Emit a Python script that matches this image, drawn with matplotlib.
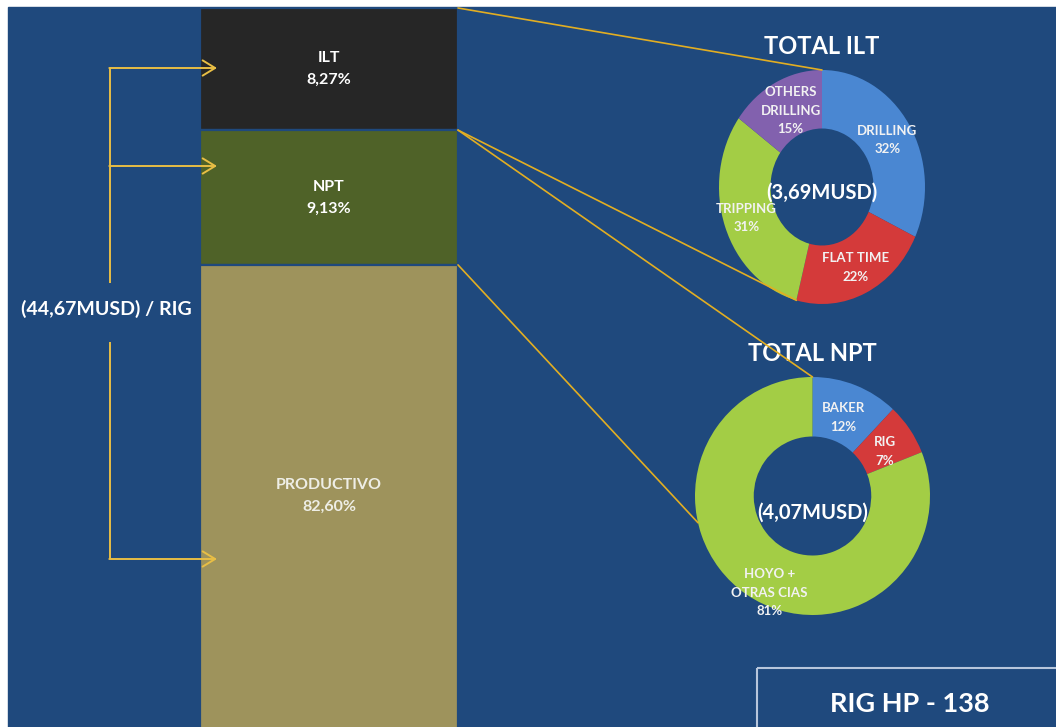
import matplotlib
matplotlib.use('Agg')
import matplotlib.pyplot as plt
import numpy as np
from matplotlib.patches import Rectangle, ConnectionPatch

plt.rcParams['font.family'] = ['Lato', 'DejaVu Sans']
plt.rcParams['font.weight'] = 'bold'

# ---------------- data ----------------
bar_categories = ['ILT', 'NPT', 'PRODUCTIVO']
bar_shares = [8.27, 9.13, 82.60]
bar_labels = ['8,27%', '9,13%', '82,60%']
total_label = '(44,67MUSD) / RIG'

ilt_categories = ['DRILLING', 'FLAT TIME', 'TRIPPING', 'OTHERS\nDRILLING']
ilt_shares = [32, 22, 31, 15]
ilt_title = 'TOTAL ILT'
ilt_total = '(3,69MUSD)'

npt_categories = ['BAKER', 'RIG', 'HOYO +\nOTRAS CIAS']
npt_shares = [12, 7, 81]
npt_title = 'TOTAL NPT'
npt_total = '(4,07MUSD)'

rig_name = 'RIG HP - 138'

# ---------------- style ----------------
BG = '#1F497D'
GOLD = '#E2AE22'
BRACKET = '#E8BE45'
bar_colors = ['#262626', '#4F6228', '#9E935C']
bar_text_colors = ['white', 'white', '#EEEEE6']
ilt_colors = ['#4A87D2', '#D43A3A', '#A3CD45', '#8261AE']
npt_colors = ['#4A87D2', '#D43A3A', '#A3CD45']

W, H = 1056, 727
fig = plt.figure(figsize=(W / 100, H / 100), dpi=100, facecolor='white')


def fr(x0, y0, x1, y1):
    return [x0 / W, 1 - y1 / H, (x1 - x0) / W, (y1 - y0) / H]


fig.patches.append(Rectangle((8 / W, 0), 1 - 8 / W, 1 - 7 / H,
                             transform=fig.transFigure, color=BG, zorder=-5))

# ---------------- stacked 100% bar (cropped at bottom) ----------------
ax_bar = fig.add_axes(fr(200, 8, 458, 727), zorder=2)
ax_bar.set_xlim(-0.5, 0.5)
ax_bar.set_ylim(51.3, 100)
ax_bar.axis('off')
tops = list(np.cumsum(bar_shares[::-1])[::-1])
y0, y1 = ax_bar.get_ylim()
for cat, share, top, col, lab, tc in zip(bar_categories, bar_shares, tops,
                                         bar_colors, bar_labels, bar_text_colors):
    bottom = top - share
    ax_bar.bar(0, share, bottom=bottom, width=1, color=col,
               edgecolor=BG, linewidth=1.6)
    vis_b, vis_t = max(bottom, y0), min(top, y1)
    ax_bar.text(0, (vis_b + vis_t) / 2, f'{cat}\n{lab}', ha='center',
                va='center', color=tc, fontsize=11.5, fontweight='bold',
                linespacing=1.7)


# ---------------- donuts ----------------
def donut(rect, shares, cats, colors, title, total, label_r, label_dth,
          total_dy):
    ax = fig.add_axes(rect, zorder=2)
    wedges, _ = ax.pie(shares, colors=colors, startangle=90,
                       counterclock=False, radius=1,
                       wedgeprops=dict(width=0.5, edgecolor='none'))
    ax.set_aspect('auto')
    ax.set_xlim(-1, 1)
    ax.set_ylim(-1, 1)
    ax.axis('off')
    for w, c, s, r, dth in zip(wedges, cats, shares, label_r, label_dth):
        th = np.deg2rad((w.theta1 + w.theta2) / 2 + dth)
        ax.text(r * np.cos(th), r * np.sin(th), f'{c}\n{s}%', ha='center',
                va='center', color='#F2F2F2', fontsize=9.5,
                fontweight='bold', linespacing=1.65)
    ax.text(0, total_dy, total, ha='center', va='center', color='white',
            fontsize=14.5, fontweight='bold')
    ax.text(0.5, 1.1, title, transform=ax.transAxes, ha='center',
            va='center', color='white', fontsize=17, fontweight='bold')
    return ax, wedges


ax_ilt, w_ilt = donut(fr(719, 70, 925, 304), ilt_shares, ilt_categories,
                      ilt_colors, ilt_title, ilt_total,
                      [0.75, 0.76, 0.78, 0.72], [0, 0, 0, -2], -0.05)
ax_npt, w_npt = donut(fr(695, 377, 930, 615), npt_shares, npt_categories,
                      npt_colors, npt_title, npt_total,
                      [0.71, 0.72, 0.89], [0, -3, 10], -0.14)


def edge_pt(angle_deg):
    a = np.deg2rad(angle_deg)
    return (np.cos(a), np.sin(a))


ilt_boundary = 90 - 360 * sum(ilt_shares[:2]) / 100
connections = [
    ((0.5, tops[0]), ax_ilt, (0, 1)),
    ((0.5, tops[1]), ax_ilt, edge_pt(ilt_boundary)),
    ((0.5, tops[1]), ax_npt, (0, 1)),
    ((0.5, tops[2]), ax_npt, edge_pt(-167)),
]
for xyA, axB, xyB in connections:
    con = ConnectionPatch(xyA=xyA, coordsA=ax_bar.transData, xyB=xyB,
                          coordsB=axB.transData, color=GOLD, lw=1.2,
                          zorder=10)
    fig.add_artist(con)

# ---------------- overlay: bracket + box ----------------
ov = fig.add_axes([0, 0, 1, 1], zorder=20)
ov.set_xlim(0, W)
ov.set_ylim(H, 0)
ov.axis('off')
ov.patch.set_alpha(0)

BX = 110
ov.plot([BX, BX], [68, 283], color=BRACKET, lw=1.4, solid_capstyle='butt')
ov.plot([BX, BX], [342, 559], color=BRACKET, lw=1.4, solid_capstyle='butt')
for yy in [68, 166, 559]:
    ov.annotate('', xy=(217, yy), xytext=(BX - 0.7, yy),
                arrowprops=dict(arrowstyle='->,head_length=0.9,head_width=0.55',
                                color=BRACKET, lw=1.4, mutation_scale=10,
                                shrinkA=0, shrinkB=0))
ov.text(106, 309, total_label, ha='center', va='center', color='white',
        fontsize=14, fontweight='bold')

ov.add_patch(Rectangle((757, 668), 400, 100, fill=False,
                       edgecolor='#B7C6DC', lw=1.5))
ov.text(910, 704, rig_name, ha='center', va='center', color='white',
        fontsize=19.5, fontweight='bold')

fig.savefig('out.png', dpi=100, facecolor='white')
